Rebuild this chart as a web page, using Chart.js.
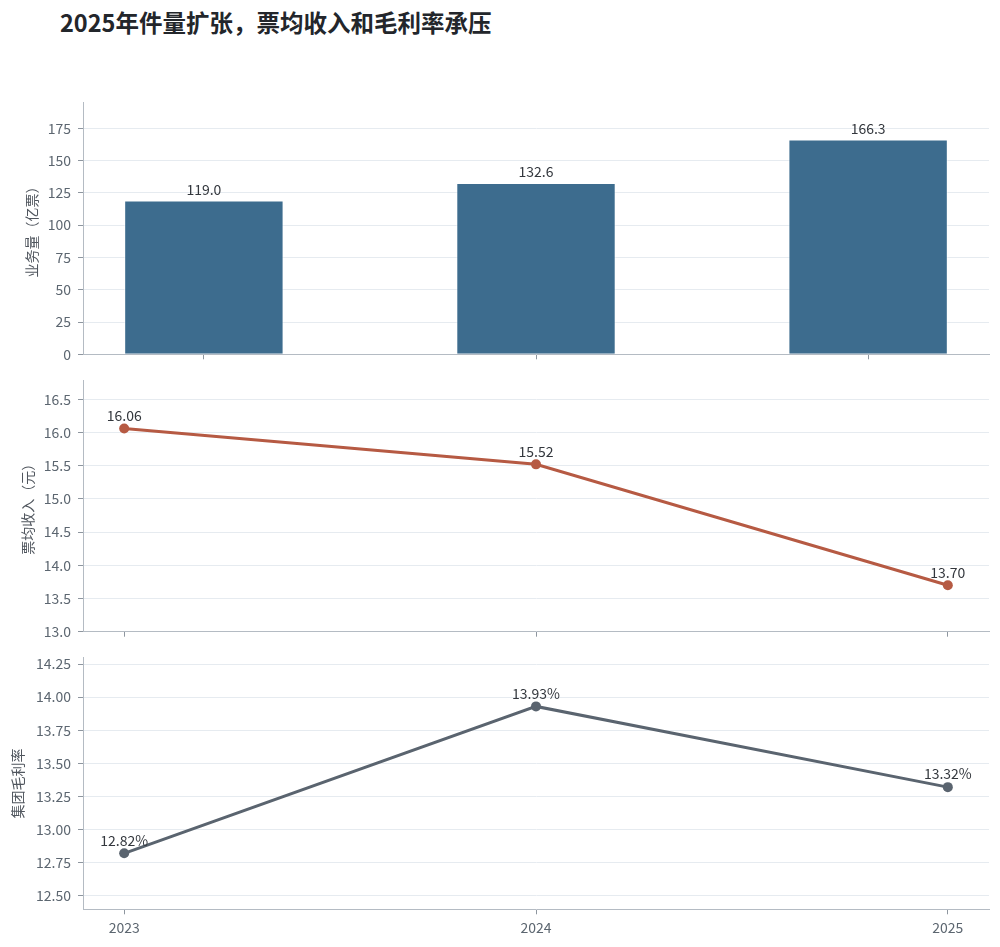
<!DOCTYPE html>
<html>
<head>
<meta charset="utf-8">
<script src="https://cdn.jsdelivr.net/npm/chart.js@4.4.1/dist/chart.umd.min.js"></script>
<style>
  body { margin: 0; background: #fff; }
  #wrap { position: relative; width: 1000px; height: 947px; }
  .layer { position: absolute; left: 0; top: 0; width: 1000px; height: 947px; }
  #title {
    position: absolute; left: 60px; top: 5px;
    font: bold 23.5px "Noto Sans CJK SC", sans-serif; color: #23262b;
    white-space: nowrap;
  }
</style>
</head>
<body>
<div id="wrap">
  <div id="title">2025年件量扩张，票均收入和毛利率承压</div>
  <div class="layer"><canvas id="volume-chart"></canvas></div>
  <div class="layer"><canvas id="revenue-chart"></canvas></div>
  <div class="layer"><canvas id="margin-chart"></canvas></div>
</div>
<script>
const years = ["2023", "2024", "2025"];
const volume = [119.0, 132.6, 166.3];          // 业务量（亿票）
const revenuePerTicket = [16.06, 15.52, 13.70]; // 票均收入（元）
const grossMargin = [12.82, 13.93, 13.32];      // 集团毛利率 %

const volumeTicks = [0, 25, 50, 75, 100, 125, 150, 175];
const revenueTicks = [13.0, 13.5, 14.0, 14.5, 15.0, 15.5, 16.0, 16.5];
const marginTicks = [12.5, 12.75, 13.0, 13.25, 13.5, 13.75, 14.0, 14.25];

Chart.defaults.font.family = "'Noto Sans CJK SC', sans-serif";
Chart.defaults.font.size = 14;
Chart.defaults.color = "#5c6670";

const PAGE_H = 947;
const AXIS_X_H = 30;

// draw the value above each mark
const valueLabels = {
  id: "valueLabels",
  afterDatasetsDraw(chart, args, opts) {
    const ctx = chart.ctx;
    ctx.save();
    ctx.font = "14px 'Noto Sans CJK SC', sans-serif";
    ctx.fillStyle = "#33373d";
    ctx.textAlign = "center";
    ctx.textBaseline = "middle";
    const ds = chart.data.datasets[0];
    chart.getDatasetMeta(0).data.forEach((el, i) => {
      ctx.fillText(opts.format(ds.data[i].y), el.x, el.y - opts.gap);
    });
    ctx.restore();
  },
};

const makePanel = (id, p) => {
  const ctx = document.getElementById(id);
  const points = p.values.map((v, i) => ({ x: i, y: v }));
  const isBar = p.type === "bar";

  new Chart(ctx, {
    type: p.type,
    data: {
      datasets: [
        isBar
          ? {
              data: points,
              backgroundColor: p.color,
              borderColor: "rgba(255,255,255,0.6)",
              borderWidth: 1,
              barPercentage: 0.48,
              categoryPercentage: 1,
            }
          : {
              data: points,
              borderColor: p.color,
              backgroundColor: p.color,
              borderWidth: 3,
              pointRadius: 5,
              pointBorderWidth: 0,
              pointBackgroundColor: p.color,
              tension: 0,
            },
      ],
    },
    options: {
      responsive: true,
      maintainAspectRatio: false,
      animation: false,
      events: [],
      layout: {
        padding: { left: 0, right: 11, top: p.top, bottom: PAGE_H - p.bottom - AXIS_X_H },
      },
      plugins: {
        legend: { display: false },
        tooltip: { enabled: false },
        valueLabels: { format: p.format, gap: p.gap },
      },
      scales: {
        x: {
          type: "linear",
          offset: false,
          min: p.xMin,
          max: p.xMax,
          afterBuildTicks: (s) => { s.ticks = years.map((y, i) => ({ value: i })); },
          afterFit: (s) => { s.height = AXIS_X_H; },
          grid: {
            offset: false,
            drawOnChartArea: false,
            drawTicks: true,
            tickLength: 5,
            tickColor: "#8e969f",
          },
          border: { color: "#b4bbc3", width: 1 },
          ticks: {
            display: p.showYears,
            padding: 5,
            color: "#5c6670",
            callback: (v) => years[v],
          },
        },
        y: {
          min: p.yMin,
          max: p.yMax,
          afterBuildTicks: (s) => { s.ticks = p.ticks.map((v) => ({ value: v })); },
          afterFit: (s) => { s.width = 83; },
          grid: { color: "#e6ebf0", lineWidth: 1, tickLength: 5, tickColor: "#8e969f" },
          border: { color: "#b4bbc3", width: 1 },
          ticks: {
            padding: 7,
            color: "#5c6670",
            callback: (v) => v.toFixed(p.decimals),
          },
          title: {
            display: true,
            text: p.yTitle,
            color: "#50565e",
            font: { size: 14 },
            padding: { top: p.titlePad, bottom: 0 },
          },
        },
      },
    },
    plugins: [valueLabels],
  });
};

makePanel("volume-chart", {
  type: "bar",
  values: volume,
  color: "#3d6c8e",
  top: 102.7, bottom: 354.3,
  xMin: -0.364, xMax: 2.364,
  yMin: 0, yMax: 194.8,
  ticks: volumeTicks, decimals: 0,
  yTitle: "业务量（亿票）", titlePad: 23.5,
  format: (v) => v.toFixed(1), gap: 11,
  showYears: false,
});

makePanel("revenue-chart", {
  type: "line",
  values: revenuePerTicket,
  color: "#b65a43",
  top: 380, bottom: 631.7,
  xMin: -0.1, xMax: 2.1,
  yMin: 13.0, yMax: 16.79,
  ticks: revenueTicks, decimals: 1,
  yTitle: "票均收入（元）", titlePad: 19.5,
  format: (v) => v.toFixed(2), gap: 13,
  showYears: false,
});

makePanel("margin-chart", {
  type: "line",
  values: grossMargin,
  color: "#5a646f",
  top: 657.7, bottom: 909.3,
  xMin: -0.1, xMax: 2.1,
  yMin: 12.397, yMax: 14.298,
  ticks: marginTicks, decimals: 2,
  yTitle: "集团毛利率", titlePad: 9,
  format: (v) => v.toFixed(2) + "%", gap: 13,
  showYears: true,
});
</script>
</body>
</html>
